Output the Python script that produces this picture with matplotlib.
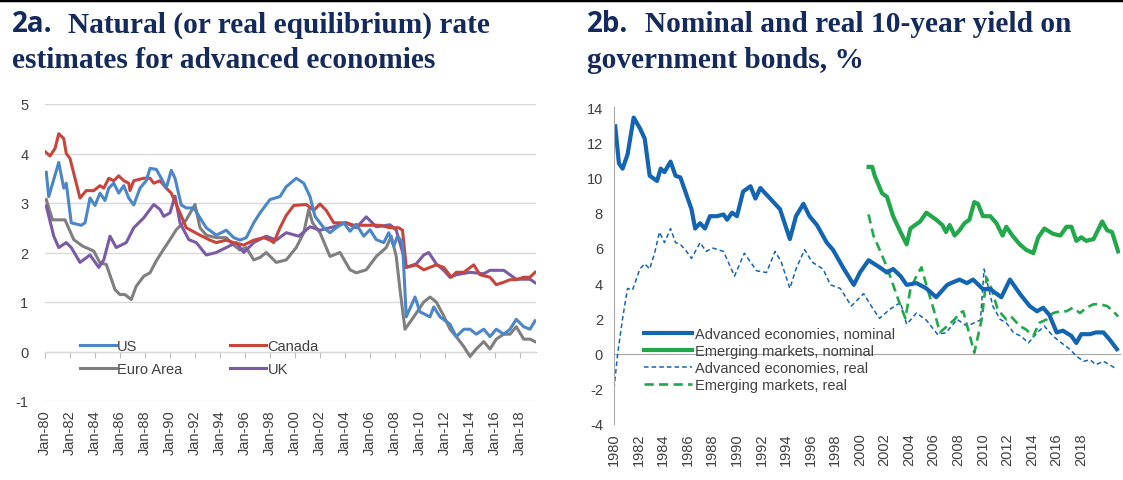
import matplotlib
matplotlib.use("Agg")
import matplotlib.pyplot as plt
from matplotlib.lines import Line2D

# ---- 2a: natural rate estimates (decimal year, %) ----
us_t = [1980.1, 1980.3, 1981.1, 1981.5, 1981.7, 1982.1, 1982.9, 1983.2, 1983.6, 1984.0, 1984.4, 1984.8,
        1985.1, 1985.5, 1985.9, 1986.3, 1986.7, 1987.1, 1987.6, 1988.1, 1988.4, 1988.9, 1989.3, 1989.7,
        1990.1, 1990.4, 1990.9, 1991.3, 1991.9, 1992.4, 1992.9, 1993.7, 1994.5, 1995.1, 1995.6, 1996.1,
        1996.7, 1997.2, 1998.0, 1998.8, 1999.3, 2000.1, 2000.7, 2001.2, 2001.6, 2002.3, 2002.8, 2003.3,
        2003.9, 2004.4, 2004.9, 2005.5, 2006.0, 2006.5, 2007.1, 2007.5, 2007.9, 2008.2, 2008.6, 2008.9,
        2009.6, 2010.0, 2010.8, 2011.1, 2011.6, 2012.4, 2012.9, 2013.5, 2014.0, 2014.5, 2015.1, 2015.6,
        2016.1, 2016.7, 2017.2, 2017.7, 2018.3, 2018.8, 2019.2]
us_v = [3.62, 3.13, 3.82, 3.3, 3.4, 2.6, 2.55, 2.6, 3.1, 2.95, 3.2, 3.05,
        3.3, 3.4, 3.2, 3.35, 3.1, 2.96, 3.3, 3.45, 3.7, 3.68, 3.5, 3.3,
        3.66, 3.5, 2.96, 2.9, 2.9, 2.7, 2.5, 2.35, 2.45, 2.3, 2.25, 2.3,
        2.6, 2.8, 3.07, 3.13, 3.33, 3.5, 3.4, 3.13, 2.73, 2.5, 2.4, 2.5,
        2.6, 2.43, 2.57, 2.33, 2.46, 2.26, 2.2, 2.4, 2.13, 2.33, 2.2, 0.7,
        1.1, 0.8, 0.7, 0.9, 0.7, 0.55, 0.3, 0.45, 0.45, 0.35, 0.45, 0.3,
        0.45, 0.35, 0.45, 0.65, 0.5, 0.45, 0.62]

ca_t = [1980.0, 1980.4, 1980.8, 1981.1, 1981.5, 1981.7, 1982.0, 1982.4, 1982.8, 1983.3, 1983.9, 1984.4,
        1984.7, 1985.1, 1985.5, 1985.9, 1986.3, 1986.7, 1986.8, 1987.1, 1987.9, 1988.4, 1988.7, 1989.2,
        1989.7, 1990.1, 1990.8, 1991.3, 1992.4, 1993.2, 1993.7, 1994.5, 1995.1, 1995.9, 1996.7, 1997.5,
        1998.0, 1998.3, 1998.8, 1999.3, 1999.9, 2000.9, 2001.5, 2002.0, 2002.5, 2003.1, 2004.1, 2004.7,
        2005.7, 2006.8, 2007.6, 2008.3, 2008.6, 2008.9, 2009.7, 2010.3, 2010.8, 2011.3, 2011.9, 2012.5,
        2012.9, 2013.5, 2014.3, 2014.8, 2015.6, 2016.1, 2016.7, 2017.2, 2017.7, 2018.3, 2018.8, 2019.2]
ca_v = [4.04, 3.95, 4.1, 4.4, 4.3, 4.0, 3.9, 3.5, 3.1, 3.25, 3.25, 3.35,
        3.3, 3.5, 3.45, 3.55, 3.45, 3.4, 3.25, 3.45, 3.5, 3.5, 3.4, 3.45,
        3.3, 3.2, 2.8, 2.5, 2.35, 2.25, 2.2, 2.25, 2.2, 2.15, 2.25, 2.3,
        2.25, 2.2, 2.5, 2.75, 2.95, 2.97, 2.85, 2.98, 2.85, 2.6, 2.6, 2.55,
        2.55, 2.55, 2.5, 2.5, 2.45, 1.7, 1.75, 1.65, 1.7, 1.75, 1.7, 1.5,
        1.6, 1.6, 1.75, 1.55, 1.5, 1.35, 1.4, 1.45, 1.45, 1.5, 1.5, 1.6]

ea_t = [1980.1, 1980.6, 1981.6, 1982.3, 1983.0, 1983.9, 1984.4, 1984.9, 1985.6, 1986.0, 1986.4, 1986.9,
        1987.3, 1987.9, 1988.4, 1988.9, 1989.4, 1990.0, 1990.5, 1991.3, 1992.0, 1992.4, 1992.9, 1993.7,
        1994.5, 1995.1, 1995.6, 1996.1, 1996.7, 1997.2, 1997.7, 1998.5, 1999.3, 2000.1, 2000.7, 2001.1,
        2001.4, 2002.0, 2002.8, 2003.6, 2004.4, 2004.9, 2005.7, 2006.5, 2007.3, 2007.7, 2008.1, 2008.4,
        2008.8, 2009.5, 2010.3, 2010.8, 2011.3, 2011.9, 2012.4, 2012.9, 2013.5, 2014.0, 2014.5, 2015.1,
        2015.6, 2016.1, 2016.7, 2017.2, 2017.7, 2018.3, 2018.8, 2019.2]
ea_v = [3.07, 2.66, 2.66, 2.26, 2.13, 2.03, 1.79, 1.76, 1.25, 1.15, 1.15, 1.05,
        1.32, 1.52, 1.59, 1.83, 2.03, 2.26, 2.46, 2.66, 2.97, 2.5, 2.35, 2.3,
        2.3, 2.15, 2.05, 2.1, 1.85, 1.9, 2.0, 1.8, 1.85, 2.1, 2.4, 2.87,
        2.6, 2.4, 1.92, 2.0, 1.65, 1.59, 1.65, 1.92, 2.1, 2.33, 1.92, 1.25,
        0.45, 0.7, 1.0, 1.1, 1.0, 0.72, 0.45, 0.3, 0.1, -0.1, 0.05, 0.2,
        0.05, 0.25, 0.35, 0.35, 0.5, 0.25, 0.25, 0.2]

uk_t = [1980.1, 1980.7, 1981.1, 1981.7, 1982.1, 1982.8, 1983.6, 1984.3, 1984.7, 1985.2, 1985.7, 1986.5,
        1987.1, 1987.9, 1988.7, 1989.2, 1989.5, 1990.0, 1990.4, 1990.8, 1991.5, 1992.1, 1992.9, 1993.7,
        1994.5, 1995.3, 1995.9, 1996.7, 1997.7, 1998.5, 1999.3, 2000.3, 2001.2, 2002.0, 2003.1, 2004.1,
        2004.9, 2005.7, 2006.5, 2007.6, 2008.1, 2008.7, 2008.9, 2009.7, 2010.3, 2010.7, 2011.3, 2011.9,
        2012.4, 2012.9, 2014.0, 2015.1, 2015.6, 2016.7, 2017.2, 2017.7, 2018.8, 2019.2]
uk_v = [2.94, 2.33, 2.1, 2.2, 2.1, 1.8, 1.95, 1.7, 1.85, 2.33, 2.1, 2.2,
        2.5, 2.7, 2.97, 2.87, 2.73, 2.8, 3.14, 2.6, 2.26, 2.2, 1.95, 2.0,
        2.1, 2.2, 2.0, 2.2, 2.33, 2.25, 2.4, 2.33, 2.52, 2.45, 2.52, 2.6,
        2.5, 2.72, 2.52, 2.56, 2.45, 1.92, 1.7, 1.77, 1.95, 2.0, 1.77, 1.64,
        1.5, 1.55, 1.6, 1.57, 1.64, 1.64, 1.55, 1.46, 1.46, 1.39]

# ---- 2b: 10-year government bond yields (decimal year, %) ----
adv_nom_t = [1980.1, 1980.4, 1980.7, 1981.1, 1981.6, 1982.1, 1982.5, 1982.9, 1983.5, 1983.8, 1984.1, 1984.6,
             1985.0, 1985.4, 1985.9, 1986.3, 1986.6, 1987.0, 1987.4, 1987.8, 1988.4, 1988.9, 1989.2, 1989.6,
             1990.0, 1990.5, 1991.1, 1991.5, 1991.9, 1992.7, 1993.5, 1994.3, 1994.8, 1995.4, 1995.9, 1996.5,
             1997.3, 1997.8, 1998.7, 1999.5, 2000.0, 2000.7, 2001.6, 2002.2, 2002.7, 2003.3, 2003.8, 2004.6,
             2005.4, 2006.2, 2007.1, 2007.5, 2008.1, 2008.7, 2009.2, 2010.0, 2010.6, 2011.1, 2011.5, 2012.2,
             2013.0, 2013.8, 2014.4, 2014.9, 2015.4, 2016.0, 2016.5, 2017.2, 2017.6, 2018.0, 2018.7, 2019.2,
             2019.8, 2020.3, 2020.9]
adv_nom_v = [12.9, 10.8, 10.5, 11.3, 13.4, 12.8, 12.2, 10.1, 9.8, 10.5, 10.3, 10.9,
             10.1, 10.0, 9.0, 8.2, 7.1, 7.4, 7.1, 7.8, 7.8, 7.9, 7.6, 8.0,
             7.8, 9.2, 9.5, 8.8, 9.4, 8.8, 8.2, 6.5, 7.8, 8.5, 7.8, 7.3,
             6.3, 5.9, 4.8, 3.9, 4.6, 5.3, 4.9, 4.6, 4.8, 4.4, 3.9, 4.0,
             3.7, 3.2, 3.9, 4.03, 4.2, 4.0, 4.2, 3.66, 3.66, 3.4, 3.2, 4.2,
             3.4, 2.7, 2.4, 2.6, 2.2, 1.2, 1.3, 1.0, 0.6, 1.1, 1.1, 1.2,
             1.2, 0.8, 0.25]

em_nom_t = [2000.7, 2001.0, 2001.2, 2001.8, 2002.2, 2002.7, 2003.3, 2003.8, 2004.1, 2004.5, 2004.9, 2005.4,
            2005.8, 2006.2, 2006.7, 2007.0, 2007.3, 2007.7, 2008.1, 2008.5, 2008.9, 2009.3, 2009.6, 2010.0,
            2010.6, 2011.1, 2011.6, 2011.9, 2012.4, 2013.0, 2013.5, 2014.1, 2014.5, 2015.0, 2015.7, 2016.3,
            2016.8, 2017.2, 2017.6, 2018.0, 2018.4, 2019.0, 2019.7, 2020.1, 2020.5, 2021.0]
em_nom_v = [10.6, 10.6, 10.1, 9.1, 8.9, 7.8, 6.9, 6.2, 7.1, 7.3, 7.5, 8.0,
            7.8, 7.6, 7.3, 6.9, 7.3, 6.7, 7.0, 7.4, 7.6, 8.6, 8.5, 7.8,
            7.8, 7.4, 6.7, 7.2, 6.7, 6.2, 5.9, 5.7, 6.6, 7.1, 6.8, 6.7,
            7.2, 7.2, 6.4, 6.6, 6.4, 6.5, 7.5, 7.0, 6.9, 5.8]

adv_real_t = [1980.0, 1980.3, 1980.7, 1981.1, 1981.5, 1981.8, 1982.1, 1982.5, 1982.9, 1983.3, 1983.7, 1984.1,
              1984.6, 1985.0, 1985.4, 1985.9, 1986.3, 1987.0, 1987.5, 1988.0, 1988.9, 1989.8, 1990.6, 1991.6,
              1992.4, 1993.1, 1993.6, 1994.3, 1994.8, 1995.5, 1996.1, 1997.0, 1997.6, 1998.4, 1999.3, 2000.3,
              2001.1, 2001.6, 2002.4, 2003.3, 2003.8, 2004.6, 2005.4, 2006.3, 2007.0, 2007.9, 2008.7, 2009.8,
              2010.1, 2010.8, 2011.4, 2011.9, 2012.5, 2013.1, 2013.7, 2014.4, 2015.0, 2015.7, 2016.4, 2017.1,
              2017.6, 2018.2, 2018.7, 2019.2, 2019.8, 2020.3, 2020.9]
adv_real_v = [-2.0, 0.0, 2.0, 3.7, 3.6, 4.2, 4.8, 5.1, 4.8, 5.7, 6.9, 6.3,
              7.1, 6.3, 6.2, 5.8, 5.4, 6.3, 5.8, 6.0, 5.8, 4.4, 5.7, 4.7,
              4.6, 5.8, 5.2, 3.7, 4.8, 5.9, 5.2, 4.8, 3.9, 3.7, 2.7, 3.4,
              2.5, 2.0, 2.5, 2.9, 1.66, 2.3, 1.9, 1.1, 1.18, 1.94, 1.56, 1.9,
              4.8, 2.7, 1.94, 1.75, 1.18, 0.99, 0.6, 1.18, 1.56, 0.99, 0.6, 0.23,
              -0.15, -0.44, -0.35, -0.63, -0.44, -0.63, -0.9]

em_real_t = [2000.7, 2001.1, 2001.6, 2002.2, 2002.7, 2003.3, 2003.7, 2004.1, 2004.6, 2005.0, 2005.4, 2006.0,
             2006.5, 2007.0, 2007.7, 2008.1, 2008.4, 2008.8, 2009.3, 2009.9, 2010.3, 2010.7, 2011.2, 2011.9,
             2012.3, 2013.0, 2013.5, 2014.1, 2014.6, 2015.2, 2015.7, 2016.3, 2016.8, 2017.3, 2017.9, 2018.4,
             2019.0, 2019.5, 2020.1, 2020.6, 2021.0]
em_real_v = [7.9, 6.7, 5.9, 4.9, 3.9, 2.7, 2.0, 3.66, 4.4, 4.9, 3.9, 2.5,
             1.2, 1.5, 1.94, 2.3, 2.4, 1.37, 0.05, 1.94, 4.3, 3.7, 2.5, 1.94,
             2.1, 1.56, 1.37, 1.0, 1.75, 1.94, 2.3, 2.4, 2.4, 2.6, 2.3, 2.6,
             2.8, 2.8, 2.7, 2.4, 2.1]

tick_years_a = list(range(1980, 2019, 2))
tick_labels_a = ["Jan-%02d" % (y % 100) for y in tick_years_a]
tick_years_b = list(range(1980, 2019, 2))
tick_labels_b = [str(y) for y in tick_years_b]

# ---- styling ----
plt.rcParams["font.family"] = ["Liberation Sans", "DejaVu Sans"]
plt.rcParams["axes.unicode_minus"] = False
navy = "#152a5c"
txt = "#404040"
c_us, c_ca, c_ea, c_uk = "#4a86c8", "#c8453c", "#7f7f7f", "#7b5ba6"
c_blue, c_green = "#1464b4", "#21a84a"
fs = 10.5

fig = plt.figure(figsize=(11.23, 4.81), dpi=100)
fig.add_artist(Line2D([0, 1], [0.998, 0.998], transform=fig.transFigure, color="black", lw=2.5))

# titles
tsize = 21.2
def title(x_num, x_rest, x2, line1, line2, num):
    fig.text(x_num / 1123, 1 - 25 / 481, num, fontsize=20, family="Open Sans", weight="bold",
             color=navy, va="center")
    fig.text(x_rest / 1123, 1 - 25 / 481, line1, fontsize=tsize, family="Liberation Serif",
             weight="bold", color=navy, va="center")
    fig.text(x2 / 1123, 1 - 60 / 481, line2, fontsize=tsize, family="Liberation Serif",
             weight="bold", color=navy, va="center")

title(12, 68, 12, "Natural (or real equilibrium) rate", "estimates for advanced economies", "2a.")
title(587, 645, 587, "Nominal and real 10-year yield on", "government bonds, %", "2b.")

# ---- panel 2a ----
ax1 = fig.add_axes([45 / 1123, 79 / 481, 491 / 1123, 297 / 481])
for s in ax1.spines.values():
    s.set_visible(False)
ax1.set_ylim(-1, 5)
ax1.set_xlim(1980.0, 2019.28)
ax1.set_yticks(range(-1, 6))
ax1.yaxis.grid(True, color="#d9d9d9", lw=1)
ax1.set_axisbelow(True)
ax1.tick_params(axis="y", length=0, pad=12, labelsize=fs, labelcolor=txt)
ax1.set_xticks(tick_years_a)
ax1.set_xticklabels(tick_labels_a, rotation=90)
ax1.tick_params(axis="x", length=0, pad=6, labelsize=fs, labelcolor=txt)

zero_a = ax1.secondary_xaxis(1 / 6)
zero_a.set_xticks(tick_years_a)
zero_a.tick_params(length=4, color="#bfbfbf", labelbottom=False)
zero_a.spines["bottom"].set_color("#bfbfbf")

lw_a = 2.2
h_ea, = ax1.plot(ea_t, ea_v, color=c_ea, lw=lw_a, label="Euro Area")
h_uk, = ax1.plot(uk_t, uk_v, color=c_uk, lw=lw_a, label="UK")
h_ca, = ax1.plot(ca_t, ca_v, color=c_ca, lw=lw_a, label="Canada")
h_us, = ax1.plot(us_t, us_v, color=c_us, lw=lw_a, label="US")
ax1.legend(handles=[h_us, h_ea, h_ca, h_uk], ncol=2, loc="upper left", bbox_to_anchor=(0.056, 0.232),
           frameon=False, fontsize=fs, handlelength=2.45, handletextpad=0.1, columnspacing=3.3,
           labelspacing=0.6, borderpad=0, labelcolor=txt)

# ---- panel 2b ----
ax2 = fig.add_axes([614 / 1123, 56 / 481, 506 / 1123, 317 / 481])
for k in ["top", "right", "bottom"]:
    ax2.spines[k].set_visible(False)
ax2.spines["left"].set_color("#a6a6a6")
ax2.set_ylim(-4, 14)
ax2.set_xlim(1980.0, 2021.15)
ax2.set_yticks(range(-4, 15, 2))
ax2.tick_params(axis="y", length=0, pad=8, labelsize=fs, labelcolor=txt)
ax2.set_xticks(tick_years_b)
ax2.set_xticklabels(tick_labels_b, rotation=90)
ax2.tick_params(axis="x", length=0, pad=6, labelsize=fs, labelcolor=txt)

zero_b = ax2.secondary_xaxis(4 / 18)
zero_b.set_xticks([])
zero_b.spines["bottom"].set_color("#a6a6a6")

ax2.plot(adv_real_t, adv_real_v, color=c_blue, lw=1.1, ls=(0, (3, 2)), label="Advanced economies, real")
ax2.plot(em_real_t, em_real_v, color=c_green, lw=1.9, ls=(0, (3.5, 2)), label="Emerging markets, real")
ax2.plot(em_nom_t, em_nom_v, color=c_green, lw=3.0, label="Emerging markets, nominal")
ax2.plot(adv_nom_t, adv_nom_v, color=c_blue, lw=3.0, label="Advanced economies, nominal")
h = ax2.get_legend_handles_labels()[0]
ax2.legend(handles=[h[3], h[2], h[0], h[1]], loc="upper left", bbox_to_anchor=(0.045, 0.328),
           frameon=False, fontsize=fs, handlelength=3.3, handletextpad=0.2, labelspacing=0.2,
           borderpad=0, labelcolor=txt)

fig.savefig("out.png", dpi=100)
